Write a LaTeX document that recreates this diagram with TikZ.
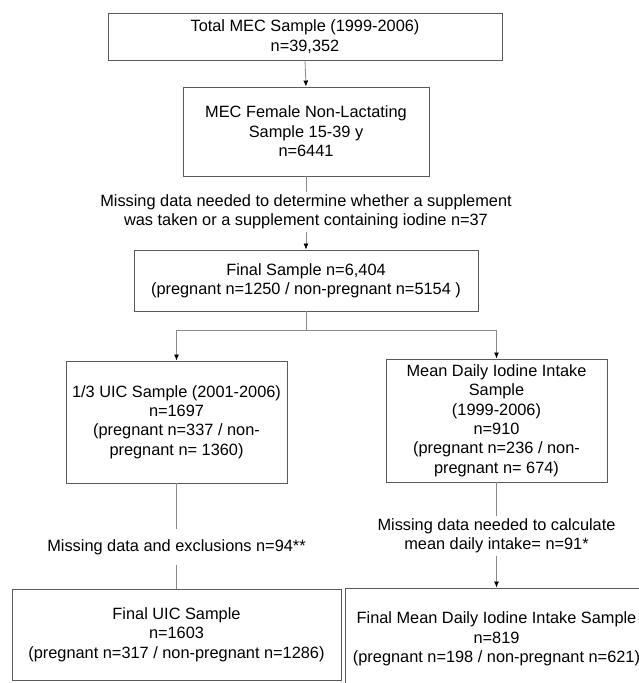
\documentclass[tikz,border=0pt]{standalone}
\usepackage{fontspec}
\setmainfont{Liberation Sans}
\usetikzlibrary{arrows.meta}
\definecolor{boxline}{HTML}{5A5A5A}
\definecolor{conline}{HTML}{8A8A8A}
\tikzset{
  every node/.style={font=\fontsize{16.4}{19.5}\selectfont, text=black},
  box/.style={draw=boxline, line width=0.9bp, rectangle, align=center, inner sep=0pt},
  lbl/.style={align=center, inner sep=2bp},
  con/.style={draw=conline, line width=0.8bp},
  arr/.style={con, -{Latex[length=6bp,width=5bp,black]}}
}
\begin{document}
\begin{tikzpicture}[x=1bp,y=-1bp]
\clip (0,0) rectangle (639,683);
\fill[white] (0,0) rectangle (639,683);

\node[box, minimum width=394bp, minimum height=47bp] (b1) at (305,36.5)
  {Total MEC Sample (1999-2006)\\n=39,352};
\node[box, minimum width=246bp, minimum height=89bp] (b2) at (306,131.5)
  {MEC Female Non-Lactating\\Sample 15-39 y\\n=6441};
\node[lbl] (t1) at (306,212)
  {Missing data needed to determine whether a supplement\\was taken or a supplement containing iodine n=37};
\node[box, minimum width=344bp, minimum height=61bp] (b3) at (306,280.5)
  {Final Sample n=6,404\\(pregnant n=1250 / non-pregnant n=5154 )};

\coordinate (j) at (306,330);
\coordinate (jl) at (176.5,330);
\coordinate (jr) at (496.5,330);

\node[box, minimum width=221bp, minimum height=122bp] (b4) at (176.5,422)
  {1/3 UIC Sample (2001-2006)\\n=1697\\(pregnant n=337 / non-\\pregnant n= 1360)};
\node[box, minimum width=221bp, minimum height=123bp] (b5) at (496.5,420.5)
  {Mean Daily Iodine Intake\\Sample\\(1999-2006)\\n=910\\(pregnant n=236 / non-\\pregnant n= 674)};

\node[lbl, inner sep=0pt] (t3) at (176.5,547)
  {Missing data and exclusions n=94**};
\node[lbl] (t4) at (496.5,536)
  {Missing data needed to calculate\\mean daily intake= n=91*};

\node[box, minimum width=329bp, minimum height=91bp] (b6) at (176.5,634.5)
  {Final UIC Sample\\n=1603\\(pregnant n=317 / non-pregnant n=1286)};
\node[box, minimum width=302bp, minimum height=102bp] (b7) at (496.5,639)
  {Final Mean Daily Iodine Intake Sample\\n=819\\(pregnant n=198 / non-pregnant n=621)};

\draw[arr] (b1.south) -- (b2.north);
\draw[con] (b2.south) -- (t1.north);
\draw[arr] (t1.south) -- (b3.north);
\draw[con] (b3.south) -- (j);
\draw[con] (jl) -- (jr);
\draw[arr] (jl) -- (b4.north);
\draw[arr] (jr) -- (b5.north);
\draw[con] (b4.south) -- ([yshift=10bp]t3.north);
\draw[con] ([yshift=-10bp]t3.south) -- (b6.north);
\draw[con] (b5.south) -- (t4.north);
\draw[arr] (t4.south) -- (b7.north);
\end{tikzpicture}
\end{document}
